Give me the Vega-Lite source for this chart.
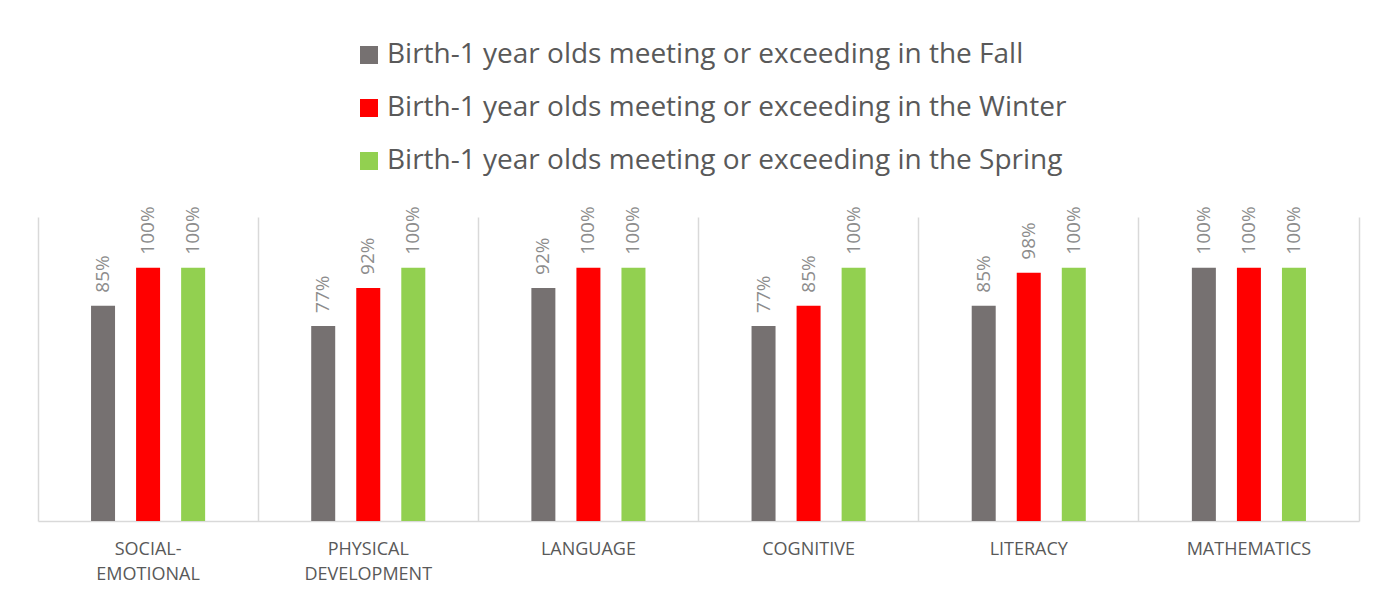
{
  "$schema": "https://vega.github.io/schema/vega-lite/v6.json",
  "width": 1321,
  "height": 304,
  "autosize": {"type": "none"},
  "padding": {"left": 38, "top": 217, "right": 19, "bottom": 78},
  "background": "white",
  "config": {"view": {"stroke": null}, "font": "Open Sans"},
  "data": {
    "values": [
      {"domain": "SOCIAL-EMOTIONAL", "season": "Birth-1 year olds meeting or exceeding in the Fall", "value": 0.85},
      {"domain": "SOCIAL-EMOTIONAL", "season": "Birth-1  year olds meeting or exceeding in the Winter", "value": 1.0},
      {"domain": "SOCIAL-EMOTIONAL", "season": "Birth-1 year olds meeting or exceeding in the Spring", "value": 1.0},
      {"domain": "PHYSICAL DEVELOPMENT", "season": "Birth-1 year olds meeting or exceeding in the Fall", "value": 0.77},
      {"domain": "PHYSICAL DEVELOPMENT", "season": "Birth-1  year olds meeting or exceeding in the Winter", "value": 0.92},
      {"domain": "PHYSICAL DEVELOPMENT", "season": "Birth-1 year olds meeting or exceeding in the Spring", "value": 1.0},
      {"domain": "LANGUAGE", "season": "Birth-1 year olds meeting or exceeding in the Fall", "value": 0.92},
      {"domain": "LANGUAGE", "season": "Birth-1  year olds meeting or exceeding in the Winter", "value": 1.0},
      {"domain": "LANGUAGE", "season": "Birth-1 year olds meeting or exceeding in the Spring", "value": 1.0},
      {"domain": "COGNITIVE", "season": "Birth-1 year olds meeting or exceeding in the Fall", "value": 0.77},
      {"domain": "COGNITIVE", "season": "Birth-1  year olds meeting or exceeding in the Winter", "value": 0.85},
      {"domain": "COGNITIVE", "season": "Birth-1 year olds meeting or exceeding in the Spring", "value": 1.0},
      {"domain": "LITERACY", "season": "Birth-1 year olds meeting or exceeding in the Fall", "value": 0.85},
      {"domain": "LITERACY", "season": "Birth-1  year olds meeting or exceeding in the Winter", "value": 0.98},
      {"domain": "LITERACY", "season": "Birth-1 year olds meeting or exceeding in the Spring", "value": 1.0},
      {"domain": "MATHEMATICS", "season": "Birth-1 year olds meeting or exceeding in the Fall", "value": 1.0},
      {"domain": "MATHEMATICS", "season": "Birth-1  year olds meeting or exceeding in the Winter", "value": 1.0},
      {"domain": "MATHEMATICS", "season": "Birth-1 year olds meeting or exceeding in the Spring", "value": 1.0}
    ]
  },
  "encoding": {
    "x": {
      "field": "domain",
      "type": "nominal",
      "sort": null,
      "scale": {"paddingInner": 0, "paddingOuter": 0},
      "axis": {
        "title": null,
        "labelAngle": 0,
        "labelAlign": "center",
        "bandPosition": 1,
        "tickExtra": true,
        "grid": true,
        "gridColor": "#d9d9d9",
        "gridWidth": 1.5,
        "ticks": false,
        "domainColor": "#d9d9d9",
        "domainWidth": 1.5,
        "labelFont": "Open Sans",
        "labelFontSize": 18,
        "labelColor": "#595959",
        "labelPadding": 19,
        "labelLineHeight": 25,
        "labelExpr": "datum.label == 'SOCIAL-EMOTIONAL' ? ['SOCIAL-', 'EMOTIONAL'] : datum.label == 'PHYSICAL DEVELOPMENT' ? ['PHYSICAL', 'DEVELOPMENT'] : datum.label"
      }
    },
    "xOffset": {
      "field": "season",
      "type": "nominal",
      "sort": null,
      "scale": {"paddingInner": 0, "paddingOuter": 0.944}
    },
    "y": {
      "field": "value",
      "type": "quantitative",
      "scale": {"domain": [0, 1.2]},
      "axis": null
    }
  },
  "layer": [
    {
      "mark": {"type": "bar", "width": 24},
      "encoding": {
        "color": {
          "field": "season",
          "type": "nominal",
          "sort": null,
          "scale": {
            "domain": [
              "Birth-1 year olds meeting or exceeding in the Fall",
              "Birth-1  year olds meeting or exceeding in the Winter",
              "Birth-1 year olds meeting or exceeding in the Spring"
            ],
            "range": ["#767171", "#ff0000", "#92d050"]
          },
          "legend": {
            "title": null,
            "orient": "none",
            "legendX": 317,
            "legendY": -176,
            "direction": "vertical",
            "symbolType": "square",
            "symbolSize": 324,
            "symbolStrokeWidth": 0,
            "symbolOpacity": 1,
            "labelFont": "Open Sans",
            "labelFontSize": 28,
            "labelColor": "#595959",
            "labelOffset": 4,
            "labelLimit": 1000,
            "rowPadding": 25
          }
        }
      }
    },
    {
      "mark": {
        "type": "text",
        "angle": 270,
        "align": "left",
        "baseline": "middle",
        "dx": 13,
        "fontSize": 19,
        "font": "Open Sans",
        "color": "#8c8c8c"
      },
      "encoding": {
        "text": {"field": "value", "type": "quantitative", "format": ".0%"}
      }
    }
  ]
}
